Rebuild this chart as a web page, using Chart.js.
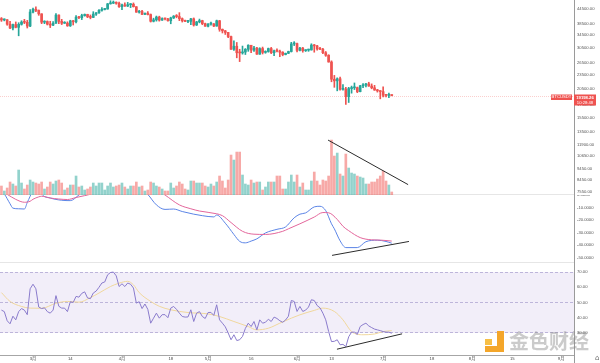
<!DOCTYPE html>
<html>
<head>
<meta charset="utf-8">
<title>BTCUSDT 1D</title>
<script src="https://cdn.jsdelivr.net/npm/chart.js@4.4.1/dist/chart.umd.min.js"></script>
<style>
  html, body { margin: 0; padding: 0; background: #fff; }
  #wrap { position: relative; width: 600px; height: 363px; overflow: hidden; }
  canvas { position: absolute; left: 0; }
  .sep { position: absolute; left: 0; width: 574px; height: 1px; background: #e6e6e6; }
  #axisLine { position: absolute; left: 574px; top: 0; width: 1px; height: 363px; background: #9a9a9a; }
  #timeLine { position: absolute; left: 0; top: 355px; width: 574px; height: 1px; background: #a6a6a6; }
  #logo { position: absolute; left: 483px; top: 331px; width: 21px; height: 21px; }
  #logo div { position: absolute; }
  #markText { position: absolute; left: 509px; top: 329px; font: 700 20px 'Noto Sans CJK SC', sans-serif;
              line-height: 24px; color: rgba(140, 140, 140, 0.45); }
  #corner { position: absolute; left: 595px; top: 354px; font: 7px 'DejaVu Sans', sans-serif; color: #666; }
</style>
</head>
<body>
<div id="wrap">
  <div class="sep" style="top:194px"></div>
  <div class="sep" style="top:262px"></div>
  <div id="timeLine"></div>
  <div id="axisLine"></div>
  <canvas id="priceChart" width="600" height="195" style="top:0"></canvas>
  <canvas id="macdChart" width="600" height="67" style="top:195px"></canvas>
  <canvas id="rsiChart" width="600" height="101" style="top:262px"></canvas>
  <div id="logo">
    <div style="left:14px;top:0;width:7px;height:21px;background:#f4a62a"></div>
    <div style="left:2px;top:15px;width:19px;height:6px;background:#f4a62a"></div>
    <div style="left:2px;top:8px;width:7px;height:6px;background:#f7bf45"></div>
  </div>
  <div id="markText">金色财经</div>
  <div id="corner">⌂</div>
</div>
<script>
// daily candles, 2022-02-18 .. 2022-07-04 (day index 0..136)
const opens = [40550,40000,40100,38400,37000,38250,37250,38350,39200,39100,
  37700,43200,44400,43900,42450,39150,39400,38400,38050,38750,
  41950,39450,38750,38800,37800,39650,39300,41100,40900,41750,
  42200,41250,41000,42350,42900,43950,44300,44500,46800,47100,
  47450,47050,45500,46300,45800,46400,46600,45500,43150,43450,
  42250,42750,42150,39500,40050,41150,39950,40550,40400,39700,
  40800,41500,41350,40500,39700,39450,39480,40450,38100,39250,
  39750,38600,37650,38450,38500,37700,39700,36550,36000,35450,
  34050,30100,31000,29100,29050,29300,30100,31300,29850,30450,
  28700,30300,29200,29450,30300,29100,29650,29550,29250,28600,
  28950,29450,31700,31800,29800,30450,29700,29850,29900,31350,
  31100,30200,30100,29100,28400,26600,22500,22150,22600,20400,
  20450,19000,20550,20700,20730,19950,21100,21250,21500,21050,
  20700,20250,20100,19950,19250,19240,19300];
const highs = [40950,40450,40150,39450,38400,39250,38950,39700,40250,39850,
  44200,44950,45400,44100,42500,39700,39650,39500,39350,42600,
  42050,40250,39350,39300,39900,39850,41700,41450,42300,42400,
  42300,42000,43350,43000,44250,45100,44800,46950,48200,48100,
  47700,47600,46700,47200,47450,46900,47200,45500,43900,43950,
  42800,43400,42400,40700,41550,41500,40850,40700,40600,41100,
  41750,42150,42950,40800,39950,39900,40600,40800,39450,40350,
  39900,38800,38650,39150,38650,39950,39850,36650,36150,35500,
  34250,32650,32150,30100,31050,30300,31450,31300,31000,30700,
  30550,30750,29650,30450,30650,29850,30200,29850,29400,29000,
  29550,32200,32400,31950,30650,30650,29950,30150,31750,31550,
  31300,30650,30350,29450,28550,26900,23350,22800,22950,21350,
  20800,20800,21050,21700,20850,21200,21550,21600,21850,21500,
  21200,20400,20150,20900,19450,19650,19350];
const lows = [39450,39650,38000,36800,36350,37050,34300,38050,38600,37000,
  37450,42850,43350,41850,38600,38600,38100,37150,37850,38650,
  38550,38250,38650,37600,37550,38100,38900,40500,40150,41500,
  40900,40450,40900,41800,42600,43600,44100,44400,46650,46900,
  46600,45200,44200,45650,45550,45100,45350,43100,42750,42100,
  42150,42000,39200,39250,39550,39550,39800,40000,39550,38550,
  40550,40850,39750,39200,39300,38950,38200,37700,37900,38900,
  38200,37600,37400,38050,37500,37650,35850,35250,34750,33700,
  30050,29750,27700,26700,28700,28600,29500,29100,29450,28650,
  28650,28750,28950,29250,28850,28300,29300,28000,28250,28500,
  28850,29300,31200,29350,29600,29250,29450,29500,29850,29250,
  29850,29950,28850,28100,26550,21950,20800,20100,20250,20250,
  17600,17950,19650,20350,19750,19900,20750,20900,21000,20500,
  20200,19850,18600,18950,18950,18800,19150];
const closes = [40000,40100,38400,37000,38250,37250,38350,39200,39100,37700,
  43200,44400,43900,42450,39150,39400,38400,38050,38750,41950,
  39450,38750,38800,37800,39650,39300,41100,40900,41750,42200,
  41250,41000,42350,42900,43950,44300,44500,46800,47100,47450,
  47050,45500,46300,45800,46400,46600,45500,43150,43450,42250,
  42750,42150,39500,40050,41150,39950,40550,40400,39700,40800,
  41500,41350,40500,39700,39450,39480,40450,38100,39250,39750,
  38600,37650,38450,38500,37700,39700,36550,36000,35450,34050,
  30100,31000,29100,29050,29300,30100,31300,29850,30450,28700,
  30300,29200,29450,30300,29100,29650,29550,29250,28600,28950,
  29450,31700,31800,29800,30450,29700,29850,29900,31350,31100,
  30200,30100,29100,28400,26600,22500,22150,22600,20400,20450,
  19000,20550,20700,20730,19950,21100,21250,21500,21050,20700,
  20250,20100,19950,19250,19240,19300,19198.26];
// volume, thousand BTC
const volumes = [9,4,7,13,11,9,25,12,6,10,
  15,13,12,11,13,6,8,13,11,14,
  15,12,5,7,10,10,19,8,9,5,
  6,8,12,9,12,12,5,9,12,8,
  9,10,12,8,6,9,9,13,8,9,
  4,5,13,12,9,8,6,4,4,12,
  7,9,13,11,6,5,14,14,12,12,
  12,9,8,11,9,13,19,14,7,15,
  40,35,43,43,20,11,10,15,12,13,
  13,5,8,13,13,13,19,19,6,6,
  13,20,13,20,8,12,5,5,14,23,
  14,10,15,14,19,55,39,42,21,19,
  41,27,22,21,19,18,17,11,11,13,
  13,16,19,24,14,10,3];

const macdDays = [0,1,3,4,6,8,9,10,11,12,13,14,17,21,24,27,30,38,45,49,
  51,54,57,60,63,67,70,74,75,78,81,83,85,87,89,92,96,99,102,104,
  106,109,111,113,115,116,118,120,124,127,131,134,136];
const macdLine = [3,0.8,-7,-10.5,-11,-11.2,-6,-1,5,8,6,0.8,-2.4,-4.2,-4.5,0,5,20,15,5,
  0.5,-7.9,-11.5,-11.2,-13.2,-15.3,-16.5,-17.5,-16,-22.5,-31.5,-37,-38.2,-36.8,-35,-30.3,-27.4,-25.5,-18.2,-15.3,
  -14.3,-9.5,-9,-12.5,-23,-27,-36.6,-42,-42,-37.3,-36.1,-37.1,-38.5];
const signalDays = [0,2,5,8,10,11,13,14,17,20,23,26,29,31,36,42,50,55,57,62,
  66,69,75,77,80,84,88,92,98,100,104,109,112,114,117,119,121,125,129,132,136];
const signalLine = [3,0.5,-3.5,-5.8,-5,-3.4,-1.5,-1,-2.4,-3.2,-3.6,-2,-0.5,0.7,8,15,12,3,0,-7.9,
  -11,-12.8,-15,-16.5,-22,-29,-31.3,-31.5,-29,-27,-23,-17.6,-14,-14.2,-19.5,-25,-28.5,-34,-35.8,-36,-36.8];

const rsi = [45,44,38,36,41,38.6,44,46,45,42,
  59,62,59,47,46,46.5,44,43,45,54.5,
  47.5,46.3,46.3,44,50.5,50,54,53.5,56,57,
  53,52.5,56.2,57.5,60,62.8,63.5,68.2,69.7,70,
  67.5,60.5,62.3,60.5,62.8,62,59.5,49.6,50.5,46,
  49,45.5,36.4,39.7,43,39.7,42,42,40,46.3,
  47.4,45.5,43,40.8,40.4,40.5,45.2,37.5,43,44,
  40.8,39.5,43.4,43.5,41.5,48.5,38.6,36.4,34,30,
  25.5,28.8,25,25.5,27.7,33,36.4,34.2,37.5,32,
  38.6,36.4,37,39,37.5,40.4,39.5,38,37,38.5,
  41,51.3,50.7,44.1,47.4,44.1,45,47,51.8,51.3,
  48,46.5,43,38.6,31,24.3,24.5,25.5,22.2,22.5,
  21,27.5,30.5,30.5,29,34.2,35.5,36.4,34.6,33.5,
  32.5,32,31.5,30.9,30.5,30.5,29.8];
const rsiMaDays = [0,3,7,10,14,19,23,27,31,34,38,41,44,46,48,52,55,59,65,72,
  76,81,86,89,93,97,101,104,109,112,116,119,122,126,130,133,136];
const rsiMa = [56.5,50.7,47.4,46.3,46.2,49.5,50.7,50.2,53.2,56.2,60.5,62.7,63.9,61.6,56.5,50.7,47.5,45.2,43.4,42.5,
  40.8,37.5,34.2,32,33.1,36.4,39.7,41.9,44.8,46.3,44.1,38.6,30.9,28.8,29.3,30.9,31.5];

// hand-drawn trend lines: [day, value]
const volTrend = [[113.8, 55], [141.7, 10.4]];
const macdTrend = [[115.2, -48.2], [142, -37.1]];
const rsiTrend = [[116.9, 19.3], [139.6, 29.4]];

const timeTickDays = [11, 24, 42, 59, 72, 87, 103, 115, 133, 150, 164, 178, 195];
const timeTickLabels = ['3月', '14', '4月', '18', '5月', '16', '6月', '13', '7月', '18', '8月', '15', '9月'];
const priceTicks = [44500, 38500, 34500, 30500, 26500, 23500, 20500, 17500, 15500, 13500, 11900, 10650, 9450, 8450, 7550];
const macdTicks = [0, -10, -20, -30, -40, -50];
const rsiTicks = [70, 60, 50, 40, 30];
const rsiLevels = [70, 50, 30];

const symbol = 'BTCUSDT';
const lastTime = '10:28:48';

const UP = '#26a69a', DOWN = '#ef5350';
const UP_VOL = 'rgba(38,166,154,0.5)', DOWN_VOL = 'rgba(239,83,80,0.5)';

Chart.defaults.font.family = "'Liberation Sans', 'Noto Sans CJK SC', sans-serif";
Chart.defaults.font.size = 4.2;
Chart.defaults.color = '#555';
Chart.defaults.animation = false;
Chart.defaults.plugins.legend.display = false;
Chart.defaults.plugins.tooltip.enabled = false;

const isUp = i => closes[i] >= opens[i];
const days = closes.map((_, i) => i);
const pts = (xs, ys) => xs.map((x, i) => ({ x: x, y: ys[i] }));
const pairPts = arr => arr.map(p => ({ x: p[0], y: p[1] }));

const xHidden = { type: 'linear', min: -0.5, max: 199.5, display: false, offset: false };

function rightAxis(tickList, digits, extra) {
  return Object.assign({
    position: 'right',
    afterBuildTicks: s => { s.ticks = tickList.map(v => ({ value: v })); },
    afterFit: s => { s.width = 26; s.paddingTop = 0; s.paddingBottom = 0; },
    grid: { display: false, drawTicks: false },
    border: { display: false },
    ticks: { padding: 3, autoSkip: false, callback: v => Number(v).toFixed(digits) }
  }, extra);
}

const line = (data, color, axis, extra) => Object.assign({
  type: 'line', data: data, yAxisID: axis, borderColor: color, borderWidth: 1,
  pointRadius: 0, fill: false
}, extra);

// price line + last price boxes
const priceTag = {
  id: 'priceTag',
  beforeDatasetsDraw(chart) {
    const { ctx, chartArea, scales } = chart;
    const y = Math.round(scales.y.getPixelForValue(closes[closes.length - 1])) + 0.5;
    ctx.save();
    ctx.strokeStyle = 'rgba(239,83,80,0.28)';
    ctx.setLineDash([1, 1]);
    ctx.lineWidth = 1;
    ctx.beginPath();
    ctx.moveTo(chartArea.left, y);
    ctx.lineTo(chartArea.right, y);
    ctx.stroke();
    ctx.restore();
  },
  afterDraw(chart) {
    const { ctx, scales } = chart;
    const y = Math.round(scales.y.getPixelForValue(closes[closes.length - 1]));
    ctx.save();
    ctx.fillStyle = DOWN;
    ctx.fillRect(551, y - 1.5, 21, 5.5);
    ctx.fillRect(574, y - 1.5, 22, 11);
    ctx.fillStyle = '#fff';
    ctx.font = "4.2px 'Liberation Sans', sans-serif";
    ctx.textAlign = 'center';
    ctx.textBaseline = 'middle';
    ctx.fillText(symbol, 561.5, y + 1.3);
    ctx.font = "bold 4.2px 'Liberation Sans', sans-serif";
    ctx.fillText(closes[closes.length - 1].toFixed(2), 585, y + 1.5);
    ctx.font = "4.2px 'Liberation Sans', sans-serif";
    ctx.fillText(lastTime, 585, y + 6.5);
    ctx.restore();
  }
};

new Chart(document.getElementById('priceChart'), {
  type: 'bar',
  data: {
    datasets: [
      line(pairPts(volTrend), '#2b2b2b', 'vol', { order: 0 }),
      {
        data: days.map(i => ({ x: i, y: [opens[i], closes[i]] })),
        backgroundColor: c => isUp(c.dataIndex) ? UP : DOWN,
        barThickness: 2, minBarLength: 1, grouped: false, yAxisID: 'y', order: 1
      },
      {
        data: days.map(i => ({ x: i, y: [lows[i], highs[i]] })),
        backgroundColor: c => isUp(c.dataIndex) ? UP : DOWN,
        barThickness: 1, grouped: false, yAxisID: 'y', order: 2
      },
      {
        data: days.map(i => ({ x: i, y: volumes[i] })),
        backgroundColor: c => isUp(c.dataIndex) ? UP_VOL : DOWN_VOL,
        barThickness: 2, grouped: false, yAxisID: 'vol', order: 3
      }
    ]
  },
  options: {
    responsive: false,
    devicePixelRatio: 1,
    layout: { padding: 0 },
    scales: {
      x: xHidden,
      y: rightAxis(priceTicks, 2, { type: 'logarithmic', min: 7310, max: 48563 }),
      vol: { type: 'linear', display: false, min: 0, max: Math.max(...volumes) * 3.55 }
    }
  },
  plugins: [priceTag]
});

new Chart(document.getElementById('macdChart'), {
  type: 'line',
  data: {
    datasets: [
      line(pairPts(macdTrend), '#2b2b2b', 'y'),
      line(pts(signalDays, signalLine), '#e3669b', 'y', { cubicInterpolationMode: 'monotone' }),
      line(pts(macdDays, macdLine), '#5b84e6', 'y', { cubicInterpolationMode: 'monotone' })
    ]
  },
  options: {
    responsive: false,
    devicePixelRatio: 1,
    layout: { padding: 0 },
    scales: {
      x: xHidden,
      y: rightAxis(macdTicks, 4, { type: 'linear', min: -53.5, max: 0 })
    }
  }
});

const rsiBand = {
  id: 'rsiBand',
  beforeDraw(chart) {
    const { ctx, chartArea, scales } = chart;
    const top = scales.y.getPixelForValue(70), bottom = scales.y.getPixelForValue(30);
    ctx.save();
    ctx.fillStyle = 'rgba(126,87,194,0.1)';
    ctx.fillRect(chartArea.left, top, chartArea.right - chartArea.left, bottom - top);
    ctx.restore();
  }
};

new Chart(document.getElementById('rsiChart'), {
  type: 'line',
  data: {
    datasets: [
      line(pairPts(rsiTrend), '#2b2b2b', 'y'),
      line(pts(days, rsi), '#8a7bcc', 'y'),
      line(pts(rsiMaDays, rsiMa), '#f0d79c', 'y', { cubicInterpolationMode: 'monotone' })
    ]
  },
  options: {
    responsive: false,
    devicePixelRatio: 1,
    layout: { padding: 0 },
    scales: {
      x: {
        type: 'linear', min: -0.5, max: 199.5, offset: false, position: 'bottom',
        afterBuildTicks: s => { s.ticks = timeTickDays.map(v => ({ value: v })); },
        afterFit: s => { s.height = 8; s.paddingLeft = 0; s.paddingRight = 0; },
        grid: { display: false, drawTicks: false },
        border: { display: false },
        ticks: { padding: 1, autoSkip: false, maxRotation: 0, color: '#444',
                 callback: (v, i) => timeTickLabels[i] }
      },
      y: rightAxis(rsiTicks, 2, {
        type: 'linear', min: 15.5, max: 76.6,
        grid: {
          display: true, drawTicks: false, lineWidth: 1,
          color: c => (c.tick && rsiLevels.includes(c.tick.value)) ? '#bdb5da' : 'rgba(0,0,0,0)'
        },
        border: { display: false, dash: [3, 2] }
      })
    }
  },
  plugins: [rsiBand]
});
</script>
</body>
</html>
